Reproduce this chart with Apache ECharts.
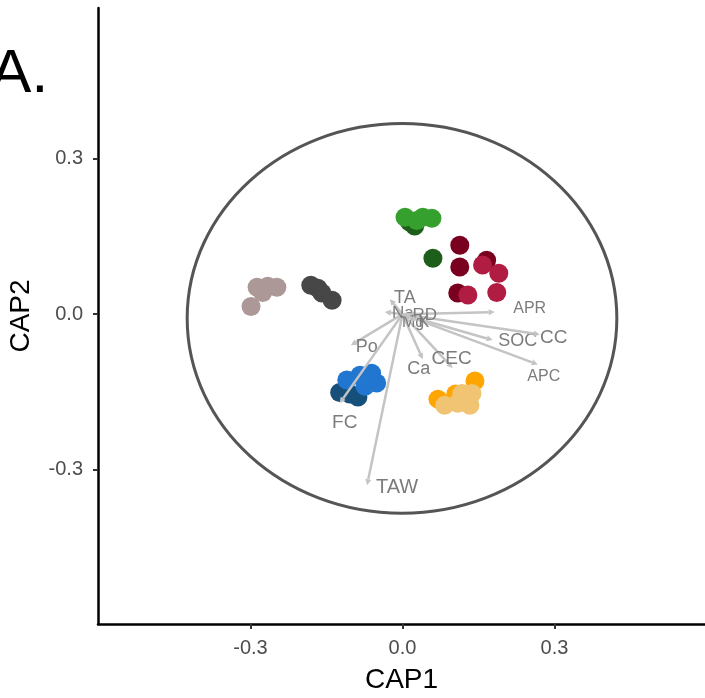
<!DOCTYPE html>
<html lang="en">
<head>
    <meta charset="UTF-8">
    <title>CAP</title>
    <script src="https://cdn.jsdelivr.net/npm/echarts@6/dist/echarts.min.js"></script>
    <style>
        html, body { margin: 0; padding: 0; background: #fff; }
    </style>
</head>
<body>
<div id="main" style="width: 705px; height: 698px"></div>
<script type="text/javascript">
    // site scores (CAP1, CAP2) by group
    var lightGreen = [[0.005, 0.187], [0.028, 0.181], [0.040, 0.187], [0.058, 0.185]];
    var darkGreen = [[0.014, 0.178], [0.024, 0.170], [0.060, 0.108]];
    var maroon = [[0.113, 0.133], [0.113, 0.091], [0.109, 0.041], [0.166, 0.104]];
    var crimson = [[0.158, 0.095], [0.190, 0.079], [0.129, 0.037], [0.186, 0.042]];
    var mauve = [[-0.287, 0.052], [-0.266, 0.054], [-0.248, 0.052], [-0.299, 0.015], [-0.276, 0.042]];
    var darkGrey = [[-0.181, 0.056], [-0.167, 0.050], [-0.159, 0.041], [-0.139, 0.027]];
    var darkBlue = [[-0.124, -0.151], [-0.088, -0.160], [-0.104, -0.154]];
    var blue = [[-0.110, -0.127], [-0.084, -0.118], [-0.061, -0.114], [-0.051, -0.133], [-0.074, -0.139]];
    var orange = [[0.070, -0.164], [0.143, -0.129], [0.105, -0.154]];
    var tan = [[0.083, -0.176], [0.117, -0.153], [0.137, -0.153], [0.133, -0.176], [0.109, -0.172]];

    // environmental vectors
    var vectorNames = ['APR', 'SOC', 'CC', 'APC', 'Po', 'Ca', 'CEC', 'FC', 'TAW', 'TA', 'Na', 'RD', 'Mg', 'K'];
    var vectorX = [0.182, 0.178, 0.271, 0.267, -0.102, 0.040, 0.099, -0.124, -0.070, -0.025, -0.035, 0.030, 0.015, 0.030];
    var vectorY = [0.004, -0.050, -0.039, -0.097, -0.060, -0.087, -0.104, -0.172, -0.330, 0.029, 0.004, 0.000, -0.010, -0.012];

    // correlation ellipse
    var ellipseCenter = [-0.001, -0.008];
    var ellipseRadius = [0.424, 0.376];

    var tickValues = [-0.3, 0, 0.3];

    // label offsets from arrow tips (px) and font sizes
    var labelStyle = {
        APR: {dx: 35, dy: -4, size: 16}, SOC: {dx: 25, dy: 1, size: 18}, CC: {dx: 14, dy: 3, size: 19},
        APC: {dx: 6, dy: 12, size: 16}, Po: {dx: 16, dy: 2, size: 18}, Ca: {dx: -4, dy: 10, size: 18},
        CEC: {dx: -1, dy: -9, size: 19}, FC: {dx: 5, dy: 19, size: 19}, TAW: {dx: 30, dy: 2, size: 20},
        TA: {dx: 15, dy: -1, size: 18}, Na: {dx: 18, dy: 1, size: 17}, RD: {dx: 7, dy: 1, size: 17},
        Mg: {dx: 3, dy: 3, size: 16}, K: {dx: 6, dy: 2, size: 16}
    };

    var vectors = vectorNames.map(function (n, i) { return [vectorX[i], vectorY[i]]; });

    function pointSeries(data, color) {
        return {
            type: 'scatter',
            data: data,
            symbolSize: 19,
            itemStyle: {color: color, opacity: 1},
            z: 3
        };
    }

    var myChart = echarts.init(document.getElementById('main'));

    var axisCommon = {
        type: 'value',
        nameLocation: 'middle',
        nameTextStyle: {color: '#000', fontSize: 28, fontFamily: 'Liberation Sans'},
        axisLine: {onZero: false, lineStyle: {color: '#000', width: 2.5}},
        axisTick: {customValues: tickValues, length: 5, lineStyle: {color: '#333', width: 2}},
        axisLabel: {
            customValues: tickValues,
            color: '#4d4d4d',
            fontSize: 20,
            fontFamily: 'Liberation Sans',
            formatter: function (v) { return v.toFixed(1); }
        },
        splitLine: {show: false}
    };

    option = {
        animation: false,
        backgroundColor: '#fff',
        grid: {left: 98, right: 0, top: 8, bottom: 74, containLabel: false, outerBoundsMode: 'none'},
        graphic: [{
            type: 'text',
            x: -10,
            y: 75,
            style: {text: 'A.', fontSize: 62, fontFamily: 'Liberation Sans', fill: '#000', verticalAlign: 'middle'}
        }],
        xAxis: Object.assign({}, axisCommon, {
            name: 'CAP1', nameGap: 42, min: -0.601, max: 0.597,
            axisLabel: Object.assign({}, axisCommon.axisLabel, {margin: 14})
        }),
        yAxis: Object.assign({}, axisCommon, {
            name: 'CAP2', nameGap: 63, min: -0.598, max: 0.591,
            axisLabel: Object.assign({}, axisCommon.axisLabel, {margin: 15})
        }),
        series: [
            {
                type: 'custom',
                data: [[ellipseCenter[0], ellipseCenter[1], ellipseRadius[0], ellipseRadius[1]]],
                renderItem: function (params, api) {
                    var c = api.coord([api.value(0), api.value(1)]);
                    var s = api.size([api.value(2), api.value(3)]);
                    return {
                        type: 'ellipse',
                        shape: {cx: c[0], cy: c[1], rx: s[0], ry: s[1]},
                        style: {fill: 'none', stroke: '#555', lineWidth: 3}
                    };
                },
                z: 1,
                silent: true
            },
            pointSeries(mauve, '#ad9898'),
            pointSeries(darkGrey, '#474747'),
            pointSeries(darkGreen, '#1d5e1a'),
            pointSeries(lightGreen, '#36a02e'),
            pointSeries(maroon, '#7a0020'),
            pointSeries(crimson, '#b01c42'),
            pointSeries(darkBlue, '#16507a'),
            pointSeries(blue, '#2177d0'),
            pointSeries(orange, '#ffa500'),
            pointSeries(tan, '#f0c472'),
            {
                type: 'custom',
                data: vectors,
                z: 5,
                silent: true,
                renderItem: function (params, api) {
                    var o = api.coord([0, 0]);
                    var t = api.coord([api.value(0), api.value(1)]);
                    var name = vectorNames[params.dataIndex];
                    var ls = labelStyle[name];
                    var dx = t[0] - o[0], dy = t[1] - o[1];
                    var len = Math.sqrt(dx * dx + dy * dy) || 1;
                    var ux = dx / len, uy = dy / len;
                    var hl = 6, hw = 3;
                    var bx = t[0] - ux * hl, by = t[1] - uy * hl;
                    return {
                        type: 'group',
                        children: [
                            {
                                type: 'line',
                                shape: {x1: o[0], y1: o[1], x2: bx, y2: by},
                                style: {stroke: '#c4c4c4', lineWidth: 2.5}
                            },
                            {
                                type: 'polygon',
                                shape: {points: [[t[0], t[1]], [bx - uy * hw, by + ux * hw], [bx + uy * hw, by - ux * hw]]},
                                style: {fill: '#c4c4c4'}
                            },
                            {
                                type: 'text',
                                x: t[0] + ls.dx,
                                y: t[1] + ls.dy,
                                style: {
                                    text: name, fill: '#7c7c7c', fontSize: ls.size,
                                    fontFamily: 'Liberation Sans', align: 'center', verticalAlign: 'middle'
                                }
                            }
                        ]
                    };
                }
            }
        ]
    };

    myChart.setOption(option);
</script>
</body>
</html>
